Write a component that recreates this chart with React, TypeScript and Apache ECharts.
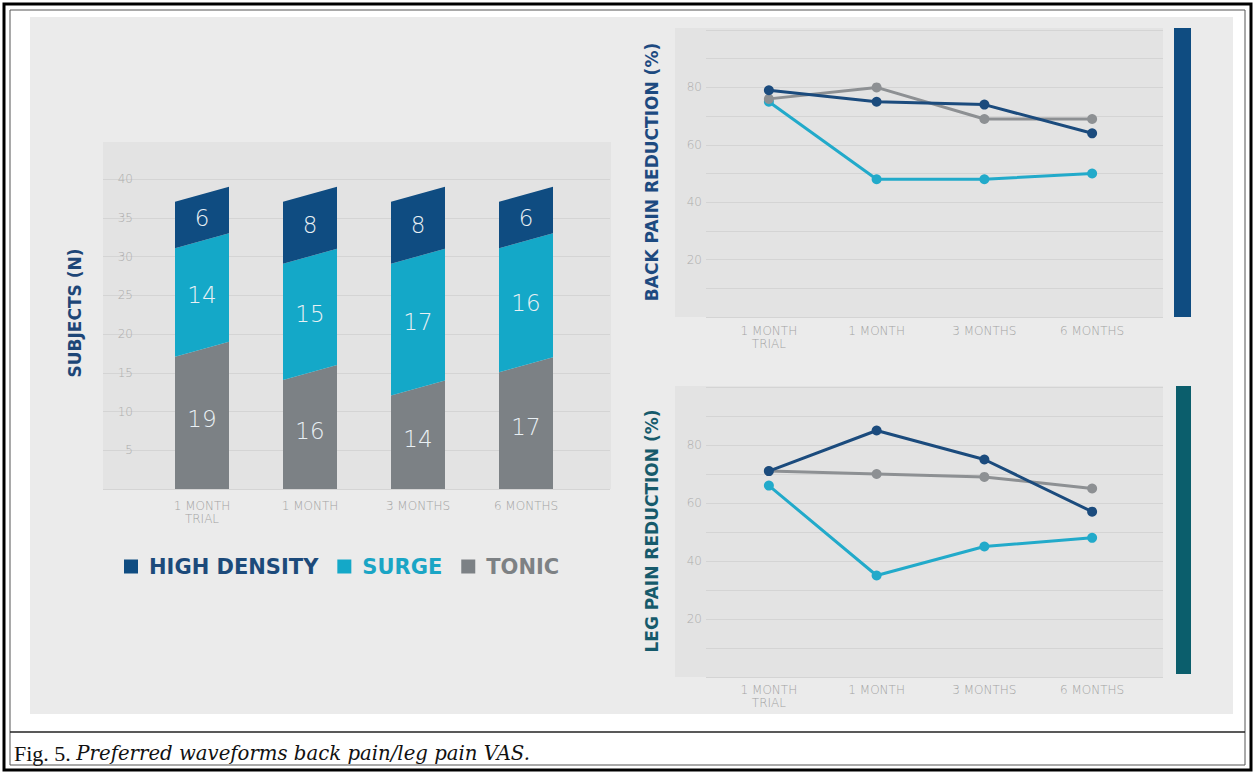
import React, { useEffect, useRef } from "react";
import * as echarts from "echarts";

// ---- data ----
const categories = ["1 MONTH\nTRIAL", "1 MONTH", "3 MONTHS", "6 MONTHS"];
const seriesNames = ["HIGH DENSITY", "SURGE", "TONIC"];

// Subjects (N), stacked bars
const tonicSubjects = [19, 16, 14, 17];
const surgeSubjects = [14, 15, 17, 16];
const highDensitySubjects = [6, 8, 8, 6];

// Back pain reduction (%)
const backHighDensity = [79, 75, 74, 64];
const backSurge = [75, 48, 48, 50];
const backTonic = [76, 80, 69, 69];

// Leg pain reduction (%)
const legHighDensity = [71, 85, 75, 57];
const legSurge = [66, 35, 45, 48];
const legTonic = [71, 70, 69, 65];

const subjectTicks = [5, 10, 15, 20, 25, 30, 35, 40];
const pctTicks = [20, 40, 60, 80];

// ---- styles ----
const C_HD = "#0f4c81";
const C_SURGE = "#14a8c8";
const C_TONIC = "#7c8185";
const C_HD_LINE = "#1b4b7d";
const C_SURGE_LINE = "#22aaca";
const C_TONIC_LINE = "#8d9093";
const C_TEAL = "#0b5e6c";
const SANS = "DejaVu Sans";
const SLANT = 15;

function stackedData(values: number[], bases: number[]) {
  return values.map((v, i) => [i, bases[i], bases[i] + v, v]);
}

function renderSlantBar(params: any, api: any) {
  const c = api.value(0);
  const lo = api.value(1);
  const hi = api.value(2);
  const val = api.value(3);
  const pLo = api.coord([c, lo]);
  const pHi = api.coord([c, hi]);
  const bw = api.size([1, 0])[0] * 0.5;
  const xl = pLo[0] - bw / 2;
  const xr = pLo[0] + bw / 2;
  const lOff = lo > 0 ? SLANT : 0;
  const points = [
    [xl, pLo[1] + lOff],
    [xr, pLo[1]],
    [xr, pHi[1]],
    [xl, pHi[1] + SLANT],
  ];
  const cy = (pLo[1] + lOff / 2 + pHi[1] + SLANT / 2) / 2;
  return {
    type: "group",
    children: [
      { type: "polygon", shape: { points }, style: { fill: api.visual("color") } },
      {
        type: "text",
        x: pLo[0],
        y: cy,
        style: {
          text: String(val),
          fill: "#e9f0f4",
          fontSize: 23,
          fontFamily: SANS,
          fontWeight: 300,
          align: "center",
          verticalAlign: "middle",
        },
      },
    ],
  };
}

export default function App() {
  const ref = useRef<HTMLDivElement>(null);

  useEffect(() => {
    if (!ref.current) return;
    const chart = echarts.init(ref.current, null, { renderer: "svg" });

    const tonicBase = categories.map(() => 0);
    const surgeBase = tonicSubjects.map((v) => v);
    const hdBase = tonicSubjects.map((v, i) => v + surgeSubjects[i]);

    const tickLabel = {
      color: "#adadad",
      fontSize: 12,
      fontFamily: SANS,
      fontWeight: 300 as any,
    };
    const catLabel = {
      color: "#a3a3a3",
      fontSize: 12,
      fontFamily: SANS,
      fontWeight: 300 as any,
      lineHeight: 13,
    };
    const splitLine = { show: true, lineStyle: { color: "#d4d4d4", width: 1 } };

    const hiddenX = (gridIndex: number) => ({
      type: "value",
      gridIndex,
      show: false,
      min: 0,
      max: 1,
    });

    const lineSeries = (name: string, data: number[], color: string, xi: number, yi: number, z: number) => ({
      type: "line",
      name,
      data,
      xAxisIndex: xi,
      yAxisIndex: yi,
      symbol: "circle",
      symbolSize: 10,
      z,
      itemStyle: { color },
      lineStyle: { color, width: 3 },
    });

    const option: any = {
      animation: false,
      grid: [
        { left: 148, top: 179, width: 432, height: 310 },
        { left: 103, top: 179, width: 507, height: 310 },
        { left: 715, top: 30, width: 431, height: 287 },
        { left: 706, top: 30, width: 457, height: 287 },
        { left: 715, top: 387, width: 431, height: 290 },
        { left: 706, top: 387, width: 457, height: 290 },
      ],
      xAxis: [
        {
          type: "category",
          gridIndex: 0,
          data: categories,
          axisLine: { show: false },
          axisTick: { show: false },
          axisLabel: { ...catLabel, margin: 10 },
        },
        hiddenX(1),
        {
          type: "category",
          gridIndex: 2,
          data: categories,
          axisLine: { show: false },
          axisTick: { show: false },
          axisLabel: { ...catLabel, margin: 7 },
        },
        hiddenX(3),
        {
          type: "category",
          gridIndex: 4,
          data: categories,
          axisLine: { show: false },
          axisTick: { show: false },
          axisLabel: { ...catLabel, margin: 6 },
        },
        hiddenX(5),
      ],
      yAxis: [
        {
          type: "value",
          gridIndex: 0,
          min: 0,
          max: 40,
          interval: 5,
          axisLine: { show: false },
          axisTick: { show: false },
          splitLine: { show: false },
          axisLabel: {
            ...tickLabel,
            margin: 15,
            formatter: (v: number) => (subjectTicks.includes(v) ? String(v) : ""),
          },
        },
        {
          type: "value",
          gridIndex: 1,
          min: 0,
          max: 40,
          interval: 5,
          axisLine: { show: false },
          axisTick: { show: false },
          axisLabel: { show: false },
          splitLine,
        },
        {
          type: "value",
          gridIndex: 2,
          min: 0,
          max: 100,
          interval: 20,
          axisLine: { show: false },
          axisTick: { show: false },
          splitLine: { show: false },
          axisLabel: {
            ...tickLabel,
            margin: 13,
            formatter: (v: number) => (pctTicks.includes(v) ? String(v) : ""),
          },
        },
        {
          type: "value",
          gridIndex: 3,
          min: 0,
          max: 100,
          interval: 10,
          axisLine: { show: false },
          axisTick: { show: false },
          axisLabel: { show: false },
          splitLine,
        },
        {
          type: "value",
          gridIndex: 4,
          min: 0,
          max: 100,
          interval: 20,
          axisLine: { show: false },
          axisTick: { show: false },
          splitLine: { show: false },
          axisLabel: {
            ...tickLabel,
            margin: 13,
            formatter: (v: number) => (pctTicks.includes(v) ? String(v) : ""),
          },
        },
        {
          type: "value",
          gridIndex: 5,
          min: 0,
          max: 100,
          interval: 10,
          axisLine: { show: false },
          axisTick: { show: false },
          axisLabel: { show: false },
          splitLine,
        },
      ],
      legend: {
        left: 119,
        top: 551,
        icon: "rect",
        itemWidth: 14,
        itemHeight: 14,
        itemGap: 19,
        selectedMode: false,
        textStyle: { fontFamily: SANS, fontWeight: "bold", fontSize: 21, padding: [0, 0, 0, 6] },
        data: [
          { name: seriesNames[0], textStyle: { color: "#1c4a7a" } },
          { name: seriesNames[1], textStyle: { color: "#1aa5c5" } },
          { name: seriesNames[2], textStyle: { color: "#7d8184" } },
        ],
      },
      series: [
        {
          type: "custom",
          name: seriesNames[2],
          xAxisIndex: 0,
          yAxisIndex: 0,
          itemStyle: { color: C_TONIC },
          renderItem: renderSlantBar,
          encode: { x: 0, y: [1, 2] },
          data: stackedData(tonicSubjects, tonicBase),
          z: 3,
        },
        {
          type: "custom",
          name: seriesNames[1],
          xAxisIndex: 0,
          yAxisIndex: 0,
          itemStyle: { color: C_SURGE },
          renderItem: renderSlantBar,
          encode: { x: 0, y: [1, 2] },
          data: stackedData(surgeSubjects, surgeBase),
          z: 3,
        },
        {
          type: "custom",
          name: seriesNames[0],
          xAxisIndex: 0,
          yAxisIndex: 0,
          itemStyle: { color: C_HD },
          renderItem: renderSlantBar,
          encode: { x: 0, y: [1, 2] },
          data: stackedData(highDensitySubjects, hdBase),
          z: 3,
        },
        lineSeries(seriesNames[1], backSurge, C_SURGE_LINE, 2, 2, 3),
        lineSeries(seriesNames[2], backTonic, C_TONIC_LINE, 2, 2, 4),
        lineSeries(seriesNames[0], backHighDensity, C_HD_LINE, 2, 2, 5),
        lineSeries(seriesNames[1], legSurge, C_SURGE_LINE, 4, 4, 3),
        lineSeries(seriesNames[2], legTonic, C_TONIC_LINE, 4, 4, 4),
        lineSeries(seriesNames[0], legHighDensity, C_HD_LINE, 4, 4, 5),
      ],
      graphic: [
        // frame
        { type: "rect", z: -5, shape: { x: 4, y: 4, width: 1247, height: 766 }, style: { fill: "#fff", stroke: "#000", lineWidth: 3 } },
        { type: "rect", z: -4, shape: { x: 10, y: 10, width: 1235, height: 755 }, style: { fill: "none", stroke: "#555", lineWidth: 1 } },
        { type: "line", z: -4, shape: { x1: 10, y1: 732, x2: 1245, y2: 732 }, style: { stroke: "#222", lineWidth: 1.5 } },
        // panel
        { type: "rect", z: -3, shape: { x: 30, y: 17, width: 1203, height: 697 }, style: { fill: "#ebebeb" } },
        // plot backgrounds
        { type: "rect", z: -2, shape: { x: 103, y: 142, width: 508, height: 347 }, style: { fill: "#e3e3e3" } },
        { type: "rect", z: -2, shape: { x: 675, y: 28, width: 488, height: 289 }, style: { fill: "#e3e3e3" } },
        { type: "rect", z: -2, shape: { x: 675, y: 386, width: 488, height: 291 }, style: { fill: "#e3e3e3" } },
        // side bars
        { type: "rect", z: 1, shape: { x: 1174, y: 28, width: 17, height: 289 }, style: { fill: C_HD } },
        { type: "rect", z: 1, shape: { x: 1176, y: 386, width: 15, height: 288 }, style: { fill: C_TEAL } },
        // axis titles
        {
          type: "text", z: 10, x: 75, y: 313, rotation: Math.PI / 2,
          style: { text: "SUBJECTS (N)", fill: "#1d4677", fontFamily: SANS, fontWeight: "bold", fontSize: 17, align: "center", verticalAlign: "middle" },
        },
        {
          type: "text", z: 10, x: 652, y: 172, rotation: Math.PI / 2,
          style: { text: "BACK PAIN REDUCTION (%)", fill: "#1d4a80", fontFamily: SANS, fontWeight: "bold", fontSize: 17, align: "center", verticalAlign: "middle" },
        },
        {
          type: "text", z: 10, x: 652, y: 531, rotation: Math.PI / 2,
          style: { text: "LEG PAIN REDUCTION (%)", fill: "#165a6b", fontFamily: SANS, fontWeight: "bold", fontSize: 17, align: "center", verticalAlign: "middle" },
        },
        // caption
        {
          type: "text", z: 10, x: 14, y: 753,
          style: {
            text: "{a|Fig. 5. }{b|Preferred waveforms back pain/leg pain VAS.}",
            verticalAlign: "middle",
            rich: {
              a: { fontFamily: "Liberation Serif", fontSize: 22, fill: "#111", color: "#111" },
              b: { fontFamily: "DejaVu Serif", fontSize: 19.7, fontStyle: "italic", fill: "#111", color: "#111" },
            },
          },
        },
      ],
    };

    chart.setOption(option);
    return () => chart.dispose();
  }, []);

  return (
    <div
      ref={ref}
      style={{ position: "absolute", left: 0, top: 0, width: 1255, height: 773 }}
    />
  );
}
